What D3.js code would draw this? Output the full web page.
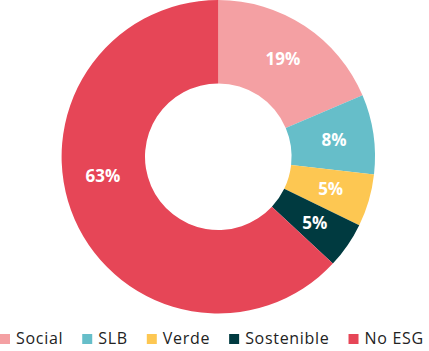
<!DOCTYPE html>
<html>
<head>
<meta charset="utf-8">
<script src="https://cdn.jsdelivr.net/npm/d3@7"></script>
<style>
  html, body { margin: 0; padding: 0; background: #fff; }
  svg { display: block; }
</style>
</head>
<body>
<div id="chart"></div>
<script>
// shares of issuance (percent)
var categories = ['Social', 'SLB', 'Verde', 'Sostenible', 'No ESG'];
var shares = [18.6, 8.2, 5.4, 4.75, 63.05];
var colors = ['#f4a0a3', '#66bec9', '#fdc752', '#003a40', '#e64657'];

var W = 429, H = 351;
var cx = 218.3, cy = 156.7;
var outerR = 156.7, innerR = 73.3, labelR = 117;
// the big slice has its label nudged round the ring (degrees)
var bigLabelNudge = 14;

var data = categories.map(function(c, i) {
  return { name: c, value: shares[i], color: colors[i] };
});

var svg = d3.select('#chart')
  .append('svg')
  .attr('width', W)
  .attr('height', H);

var pie = d3.pie()
  .sort(null)
  .value(function(d) { return d.value; });

var arc = d3.arc()
  .innerRadius(innerR)
  .outerRadius(outerR);

var labelArc = d3.arc()
  .innerRadius(labelR)
  .outerRadius(labelR);

var g = svg.append('g')
  .attr('transform', 'translate(' + cx + ',' + cy + ')');

var arcs = pie(data);

g.selectAll('path')
  .data(arcs)
  .enter()
  .append('path')
  .attr('d', arc)
  .style('fill', function(d) { return d.data.color; });

var labelPos = function(d, i) {
  if (i !== arcs.length - 1) {
    return labelArc.centroid(d);
  }
  var a = (d.startAngle + d.endAngle) / 2 + bigLabelNudge * Math.PI / 180;
  return [labelR * Math.sin(a), -labelR * Math.cos(a)];
};

g.selectAll('text')
  .data(arcs)
  .enter()
  .append('text')
  .attr('transform', function(d, i) { return 'translate(' + labelPos(d, i) + ')'; })
  .attr('text-anchor', 'middle')
  .attr('dy', '0.36em')
  .style('font-family', '"Open Sans", sans-serif')
  .style('font-weight', 'bold')
  .style('font-size', '17px')
  .style('fill', '#fff')
  .text(function(d) { return Math.round(d.data.value) + '%'; });

// legend, laid out left to right
var legend = svg.append('g')
  .attr('transform', 'translate(0,' + 344 + ')');

var x = 0;
data.forEach(function(d) {
  legend.append('rect')
    .attr('x', x)
    .attr('y', -10)
    .attr('width', 10)
    .attr('height', 10)
    .style('fill', d.color);
  var t = legend.append('text')
    .attr('x', x + 16)
    .attr('y', 0)
    .style('font-family', '"Open Sans", sans-serif')
    .style('font-size', '16px')
    .style('letter-spacing', '0.7px')
    .style('fill', '#222')
    .text(d.name);
  x += 16 + t.node().getComputedTextLength() + 19;
});
</script>
</body>
</html>
